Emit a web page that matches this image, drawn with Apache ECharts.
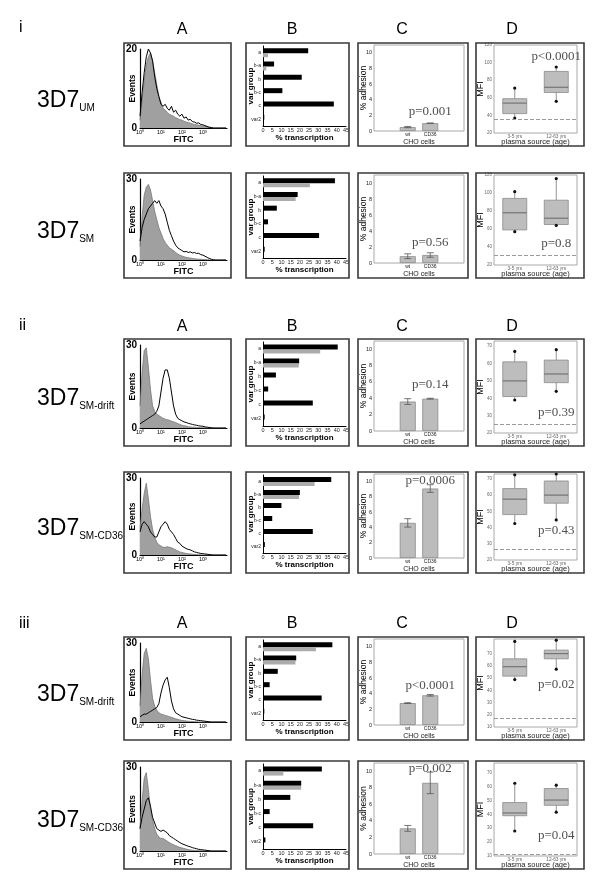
<!DOCTYPE html>
<html><head><meta charset="utf-8">
<script src="https://cdn.jsdelivr.net/npm/echarts@6/dist/echarts.min.js"></script>
<style>html,body{margin:0;padding:0;background:#fff}#c{width:600px;height:892px}</style>
</head><body><div id="c"></div>
<script>
// ---------- DATA ----------
const bins = [0,0.1,0.2,0.3,0.4,0.5,0.6,0.7,0.8,0.9,1,1.1,1.2,1.3,1.4,1.5,1.6,1.7,1.8,1.9,2,2.1,2.2,2.3,2.4,2.5,2.6,2.7,2.8,2.9,3,3.1,3.2,3.3,3.4,3.5,3.6,3.7,3.8,3.9,4,4.1];
const fitcTicks = ['10\u2070','10\u00b9','10\u00b2','10\u00b3'];

const grayUM = [2,7,12,16,18,19,17,14,11,8, 6.5,5,4.5,4,3.5,3.2,3,2.6,2.4,2.1, 2,1.7,1.5,1.4,1.2,1,0.9,0.8,0.7,0.6, 0.5,0.4,0.3,0.2,0.1,0,0,0,0,0, 0,0];
const blackUM = [3,9,14,18,20,19,17,13,10,8, 6,5.5,6,5,4.5,5.5,4,4.5,3.5,3, 3.5,2.5,2.8,2,2.2,1.6,1.5,1.2,1.3,0.9, 0.8,0.6,0.4,0.2,0.1,0,0,0,0,0, 0,0];
const graySM = [5,16,24,27,28,26,22,18,15,12, 10,8,6.5,5.5,4.5,4,3.5,2.8,2.2,1.8, 1.5,1.2,1,0.8,0.7,0.6,0.5,0.4,0.3,0.3, 0.2,0.2,0.1,0.1,0,0,0,0,0,0, 0,0];
const blackSM = [7,12,15,17,19,20,21,22,21,22, 20,19,17,14,11,9,7,5.5,4.5,4, 3.5,3,3.2,2.8,3,2.6,2.8,2.4,2.5,2, 1.8,1.4,1,0.6,0.3,0.1,0,0,0,0, 0,0];
const grayDrift1 = [8,20,28,29,22,14,8,6,5,4.5, 4,3.5,3.2,3,2.8,2.5,2.2,2,1.6,1.3, 1,0.8,0.7,0.5,0.4,0.3,0.3,0.2,0.2,0.1, 0.1,0,0,0,0,0,0,0,0,0, 0,0];
const blackDrift1 = [1.5,2,2.5,3,3.5,4,4.5,5,6,8, 13,18,21,21,18,13,8,5,3.5,3, 2.6,2.2,2,1.7,1.5,1.3,1.1,1,0.8,0.7, 0.6,0.4,0.3,0.2,0.1,0,0,0,0,0, 0,0];
const grayCD36a = [10,18,24,28,22,15,10,7,5,4, 3.5,3,3,3.2,3,2.8,2.4,2,1.6,1.2, 1,0.8,0.6,0.5,0.4,0.3,0.2,0.2,0.1,0.1, 0,0,0,0,0,0,0,0,0,0, 0,0];
const blackCD36a = [9,12,13,12,11,9,8,7,7,9, 11,12,13,12,10,9,8,6.5,5,4.5, 3.5,3,2.5,2.2,2,1.6,1.2,1,0.8,0.6, 0.5,0.4,0.3,0.2,0.1,0,0,0,0,0, 0,0];
const grayDrift2 = [6,18,26,28,24,16,9,6,4.5,3.5, 3,2.8,2.5,2.3,2,1.8,1.5,1.2,1,0.8, 0.6,0.5,0.4,0.3,0.2,0.2,0.1,0.1,0,0, 0,0,0,0,0,0,0,0,0,0, 0,0];
const blackDrift2 = [2,2.5,3,3,3.5,4,4.5,5,5.5,7, 11,14,16,17,13,8,5,3.5,3,2.5, 2,1.8,1.6,1.4,1.2,1,0.9,0.7,0.6,0.5, 0.4,0.3,0.2,0.1,0,0,0,0,0,0, 0,0];
const grayCD36b = [8,18,26,28,22,15,11,8,6,5, 4.5,4.5,4,3.5,3,2.6,2.2,1.9,1.6,1.3, 1.1,0.9,0.7,0.5,0.4,0.3,0.2,0.2,0.1,0.1, 0,0,0,0,0,0,0,0,0,0, 0,0];
const blackCD36b = [8,12,15,18,19,16,12,10,8,7.5, 7,7.5,7,6.5,5.5,5,4.5,4,3.5,3, 2.6,2.3,2,1.7,1.5,1.2,1,0.8,0.6,0.5, 0.4,0.3,0.2,0.1,0,0,0,0,0,0, 0,0];
const eventsMax = [20,30,30,30,30,30];

const varGroups = ['a','b-a','b','b-c','c','var2'];
const transBlackUM = [24.5,6,21,10.5,38.4,0.7];
const transGrayUM = [2.7,1.8,0,0,0,0];
const transBlackSM = [39,18.8,7.5,2.7,30.4,0.9];
const transGraySM = [25.4,17.7,0,0,0,0];
const transBlackDrift1 = [40.5,19.6,7,2.8,27,0.9];
const transGrayDrift1 = [31,19.4,0,0,0,0];
const transBlackCD36a = [37,20,10,5,27,1];
const transGrayCD36a = [28,19.5,0,0,0,0];
const transBlackDrift2 = [37.6,18,8,3.6,31.8,0.7];
const transGrayDrift2 = [28.7,17.6,0,0,0,0];
const transBlackCD36b = [31.9,20.7,14.8,3.6,27.2,1.3];
const transGrayCD36b = [11,20.7,0,0,0,0];

const cellLines = ['', 'wt', 'CD36', ''];
const adhUM = [0.5,1.0], adhErrUM = [0.08,0.02];
const adhSM = [0.85,1.0], adhErrSM = [0.3,0.28];
const adhDrift1 = [3.6,3.95], adhErrDrift1 = [0.35,0.05];
const adhCD36a = [4.6,9.1], adhErrCD36a = [0.55,0.5];
const adhDrift2 = [2.8,3.8], adhErrDrift2 = [0.05,0.1];
const adhCD36b = [3.1,8.6], adhErrCD36b = [0.35,1.3];
const pAdh = ['p=0.001','p=0.56','p=0.14','p=0.0006','p<0.0001','p=0.002'];
const pAdhY = [2.5,2.5,5.7,10.1,5.1,10.3];

const ageGroups = ['3-5 yrs','12-63 yrs'];
// [min, Q1, median, Q3, max]
const mfiUM = [[37,42,54,59,71],[56,66,72,90,95]];
const mfiSM = [[57,59,78,94,101.5],[64,65,72,92,116]];
const mfiDrift1 = [[39,41,50,61,67],[44,49,54,62,68]];
const mfiCD36a = [[42.5,48,57.5,64,72.5],[44.7,55,60,68.7,73]];
const mfiDrift2 = [[48.8,51.6,59.3,65.8,80],[57.3,65.8,70,72.9,81]];
const mfiCD36b = [[28,39,41,48.5,62.4],[41.6,46.5,50.3,58.6,61]];
const mfiCutoff = [35.6,30.6,24.8,26.4,17.1,11.3];
const mfiAxisMin = [20,20,20,20,10,10];
const mfiAxisMax = [120,120,73,73,82,77];
const mfiAxisStep = [20,20,10,10,10,10];
const mfiTopLabel = [120,120,70,70,70,70];
const pMfi = ['p<0.0001','p=0.8','p=0.39','p=0.43','p=0.02','p=0.04'];
const pMfiY = [107,44,32,38,44.6,25];

const romanLabels = ['i','ii','iii'];
const panelLetters = ['A','B','C','D'];
const strainMain = ['3D7','3D7','3D7','3D7','3D7','3D7'];
const strainSub = ['UM','SM','SM-drift','SM-CD36','SM-drift','SM-CD36'];

// ---------- LAYOUT ----------
const colBox = [[124,231],[246,349],[358,468],[476,584]];
const rowBox = [[43,146],[173,278],[339,446],[472,573],[637,740],[761,869]];
const inset = [{l:16,r:4,t:6,b:18},{l:17,r:3,t:3,b:20},{l:16,r:4,t:2,b:15},{l:18,r:7,t:2,b:13}];

const hg = [grayUM,graySM,grayDrift1,grayCD36a,grayDrift2,grayCD36b];
const hb = [blackUM,blackSM,blackDrift1,blackCD36a,blackDrift2,blackCD36b];
const tb = [transBlackUM,transBlackSM,transBlackDrift1,transBlackCD36a,transBlackDrift2,transBlackCD36b];
const tg = [transGrayUM,transGraySM,transGrayDrift1,transGrayCD36a,transGrayDrift2,transGrayCD36b];
const ad = [adhUM,adhSM,adhDrift1,adhCD36a,adhDrift2,adhCD36b];
const ae = [adhErrUM,adhErrSM,adhErrDrift1,adhErrCD36a,adhErrDrift2,adhErrCD36b];
const mf = [mfiUM,mfiSM,mfiDrift1,mfiCD36a,mfiDrift2,mfiCD36b];

const SANS = '"Liberation Sans", Arial, sans-serif';
const SERIF = '"Liberation Serif", "Times New Roman", serif';

const grids=[], xAxes=[], yAxes=[], series=[], graphics=[];
const noMove = {nameMoveOverlap:false};

for (let r=0;r<6;r++){
  for (let c=0;c<4;c++){
    const g = r*4+c;
    const [x0,x1] = colBox[c], [y0,y1] = rowBox[r], ins = inset[c];
    grids.push({left:x0+ins.l, top:y0+ins.t, width:(x1-ins.r)-(x0+ins.l), height:(y1-ins.b)-(y0+ins.t),
      show: c>=2, borderColor:'#a8a8a8', borderWidth:1, backgroundColor:'transparent'});
    graphics.push({type:'rect', shape:{x:x0,y:y0,width:x1-x0,height:y1-y0}, style:{fill:null, stroke:'#3a3a3a', lineWidth:1.6}, z:100});
    if (c===0){
      xAxes.push({...noMove, type:'value', gridIndex:g, min:0, max:4.15, interval:1,
        axisLine:{lineStyle:{color:'#000',width:1.2}}, axisTick:{show:false}, splitLine:{show:false},
        axisLabel:{fontSize:5.5, margin:1.5, color:'#000', fontFamily:SANS, formatter:v=> (v>=0&&v<=3&&Number.isInteger(v))?fitcTicks[v]:''},
        name:'FITC', nameLocation:'middle', nameGap:7, nameTextStyle:{fontSize:9, fontWeight:'bold', color:'#000', fontFamily:SANS}});
      yAxes.push({...noMove, type:'value', gridIndex:g, min:0, max:eventsMax[r], interval:eventsMax[r],
        axisLine:{show:true,lineStyle:{color:'#000',width:1.2}}, axisTick:{show:false}, splitLine:{show:false},
        axisLabel:{fontSize:10, fontWeight:'bold', margin:3, color:'#000', fontFamily:SANS},
        name:'Events', nameLocation:'middle', nameGap:3, nameTextStyle:{fontSize:8.5, fontWeight:'bold', color:'#000', fontFamily:SANS}});
      series.push({type:'line', xAxisIndex:g, yAxisIndex:g, data:bins.map((x,i)=>[x,hg[r][i]||0]), symbol:'none',
        lineStyle:{color:'#777',width:0.8}, areaStyle:{color:'#a0a0a0',opacity:1}, z:2, silent:true});
      series.push({type:'line', xAxisIndex:g, yAxisIndex:g, data:bins.map((x,i)=>[x,hb[r][i]||0]), symbol:'none',
        lineStyle:{color:'#000',width:1}, z:3, silent:true});
    } else if (c===1){
      xAxes.push({...noMove, type:'value', gridIndex:g, min:0, max:45, interval:5,
        axisLine:{show:true,lineStyle:{color:'#000',width:1}}, axisTick:{show:false}, splitLine:{show:false},
        axisLabel:{fontSize:5.5, margin:1.5, color:'#222', fontFamily:SANS, showMaxLabel:true},
        name:'% transcription', nameLocation:'middle', nameGap:8, nameTextStyle:{fontSize:8, fontWeight:'bold', color:'#000', fontFamily:SANS}});
      yAxes.push({...noMove, type:'category', gridIndex:g, data:varGroups, inverse:true,
        axisLine:{show:true,lineStyle:{color:'#000',width:1}}, axisTick:{show:false},
        axisLabel:{fontSize:5, margin:2, color:'#222', fontFamily:SANS},
        name:'var group', nameLocation:'middle', nameGap:8, nameTextStyle:{fontSize:8, fontWeight:'bold', color:'#000', fontFamily:SANS}});
      series.push({type:'bar', xAxisIndex:g, yAxisIndex:g, data:tb[r], barWidth:5, barGap:'0%', itemStyle:{color:'#000'}, silent:true});
      series.push({type:'bar', xAxisIndex:g, yAxisIndex:g, data:tg[r], barWidth:4, itemStyle:{color:'#acacac'}, silent:true});
    } else if (c===2){
      xAxes.push({...noMove, type:'category', gridIndex:g, data:cellLines,
        axisLine:{show:false}, axisTick:{show:false},
        axisLabel:{fontSize:5, margin:1.5, color:'#222', fontFamily:SANS, interval:0},
        name:'CHO cells', nameLocation:'middle', nameGap:7.5, nameTextStyle:{fontSize:7, color:'#222', fontFamily:SANS}});
      yAxes.push({...noMove, type:'value', gridIndex:g, min:0, max:11, interval:2,
        axisLine:{show:false}, axisTick:{show:false}, splitLine:{show:false},
        axisLabel:{fontSize:5.5, margin:2, color:'#222', fontFamily:SANS, formatter:v=> v%2===0?String(v):''},
        name:'% adhesion', nameLocation:'middle', nameGap:6, nameTextStyle:{fontSize:8.5, color:'#000', fontFamily:SANS}});
      const vals = ad[r], errs = ae[r];
      series.push({type:'bar', xAxisIndex:g, yAxisIndex:g, data:['-',vals[0],vals[1],'-'], barWidth:16,
        itemStyle:{color:'#bcbcbc', borderColor:'#8a8a8a', borderWidth:0.8}, silent:true});
      series.push({type:'custom', xAxisIndex:g, yAxisIndex:g, silent:true, z:5,
        data: vals.map((v,i)=>[i+1, v-errs[i], v+errs[i]]),
        renderItem:(p,api)=>{
          const lo = api.coord([api.value(0), api.value(1)]), hi = api.coord([api.value(0), api.value(2)]);
          const st = {stroke:'#555', lineWidth:0.8}, hw=3.5;
          return {type:'group', children:[
            {type:'line', shape:{x1:lo[0],y1:lo[1],x2:hi[0],y2:hi[1]}, style:st},
            {type:'line', shape:{x1:lo[0]-hw,y1:lo[1],x2:lo[0]+hw,y2:lo[1]}, style:st},
            {type:'line', shape:{x1:hi[0]-hw,y1:hi[1],x2:hi[0]+hw,y2:hi[1]}, style:st}]};
        }});
      series.push({type:'scatter', xAxisIndex:g, yAxisIndex:g, data:[[1.5,pAdhY[r]]], symbolSize:0, silent:true, z:6,
        label:{show:true, position:'inside', align:'center', verticalAlign:'middle', formatter:()=>pAdh[r], fontFamily:SERIF, fontSize:13, color:'#222'}});
    } else {
      xAxes.push({...noMove, type:'category', gridIndex:g, data:ageGroups,
        axisLine:{show:false}, axisTick:{show:false},
        axisLabel:{fontSize:4.8, margin:1.5, color:'#666', fontFamily:SANS, interval:0},
        name:'plasma source (age)', nameLocation:'middle', nameGap:5, nameTextStyle:{fontSize:7.5, color:'#222', fontFamily:SANS}});
      const step = mfiAxisStep[r], top = mfiTopLabel[r];
      yAxes.push({...noMove, type:'value', gridIndex:g, min:mfiAxisMin[r], max:mfiAxisMax[r], interval:step,
        axisLine:{show:false}, axisTick:{show:false}, splitLine:{show:false},
        axisLabel:{fontSize:4.5, margin:2, color:'#666', fontFamily:SANS, formatter:v=> (v%step===0 && v<=top)?String(v):''},
        name:'MFI', nameLocation:'middle', nameGap:9, nameTextStyle:{fontSize:9, color:'#000', fontFamily:SANS}});
      series.push({type:'custom', xAxisIndex:g, yAxisIndex:g, silent:true, z:4,
        data: mf[r].map((b,i)=>[i, b[0], b[1], b[2], b[3], b[4]]),
        renderItem:(p,api)=>{
          const i = api.value(0);
          const lo=api.coord([i,api.value(1)]), q1=api.coord([i,api.value(2)]), md=api.coord([i,api.value(3)]),
                q3=api.coord([i,api.value(4)]), hi=api.coord([i,api.value(5)]);
          const w=12, ws={stroke:'#7a7a7a', lineWidth:0.8};
          return {type:'group', children:[
            {type:'line', shape:{x1:lo[0],y1:lo[1],x2:q1[0],y2:q1[1]}, style:ws},
            {type:'line', shape:{x1:q3[0],y1:q3[1],x2:hi[0],y2:hi[1]}, style:ws},
            {type:'rect', shape:{x:q3[0]-w,y:q3[1],width:2*w,height:q1[1]-q3[1]}, style:{fill:'#bdbdbd',stroke:'#8a8a8a',lineWidth:0.8}},
            {type:'line', shape:{x1:md[0]-w,y1:md[1],x2:md[0]+w,y2:md[1]}, style:{stroke:'#666',lineWidth:1}},
            {type:'circle', shape:{cx:lo[0],cy:lo[1],r:1.6}, style:{fill:'#111'}},
            {type:'circle', shape:{cx:hi[0],cy:hi[1],r:1.6}, style:{fill:'#111'}}]};
        },
        markLine:{silent:true, symbol:'none', label:{show:false}, lineStyle:{type:'dashed', color:'#9a9a9a', width:1},
          data:[{yAxis:mfiCutoff[r]}]}});
      series.push({type:'scatter', xAxisIndex:g, yAxisIndex:g, data:[[0.5,pMfiY[r]]], symbolSize:0, silent:true, z:6,
        label:{show:true, position:'inside', align:'center', verticalAlign:'middle', formatter:()=>pMfi[r], fontFamily:SERIF, fontSize:13, color:'#222'}});
    }
  }
}

// headings
const romanPos = [[19,28],[19,326],[19,624]];
romanLabels.forEach((t,i)=>graphics.push({type:'text', x:romanPos[i][0], y:romanPos[i][1],
  style:{text:t, fontSize:16, fontFamily:SANS, fill:'#000', align:'left', verticalAlign:'middle', textAlign:'left', textVerticalAlign:'middle'}}));
const letterX = [182,292,402,512], letterY = [30,327,624];
letterY.forEach(y=>panelLetters.forEach((t,i)=>graphics.push({type:'text', x:letterX[i], y:y,
  style:{text:t, fontSize:16, fontFamily:SANS, fill:'#000', align:'center', verticalAlign:'middle', textAlign:'center', textVerticalAlign:'middle'}})));

// strain labels with subscripts
const ctx = document.createElement('canvas').getContext('2d');
ctx.font = '23px "Liberation Sans"';
const mainW = ctx.measureText('3D7').width;
const strainY = rowBox.map(b=>Math.round((b[0]+b[1])/2)+12);
for (let r=0;r<6;r++){
  graphics.push({type:'text', x:37, y:strainY[r]+5, style:{text:strainMain[r], fontSize:23, fontFamily:SANS, fill:'#000', align:'left', verticalAlign:'bottom', textAlign:'left', textVerticalAlign:'bottom'}});
  graphics.push({type:'text', x:37+mainW, y:strainY[r]+6, style:{text:strainSub[r], fontSize:10, fontFamily:SANS, fill:'#000', align:'left', verticalAlign:'bottom', textAlign:'left', textVerticalAlign:'bottom'}});
}

const chart = echarts.init(document.getElementById('c'), null, {renderer:'canvas', width:600, height:892});
chart.setOption({animation:false, backgroundColor:'#fff', grid:grids, xAxis:xAxes, yAxis:yAxes, series:series, graphic:{elements:graphics}});
</script></body></html>
